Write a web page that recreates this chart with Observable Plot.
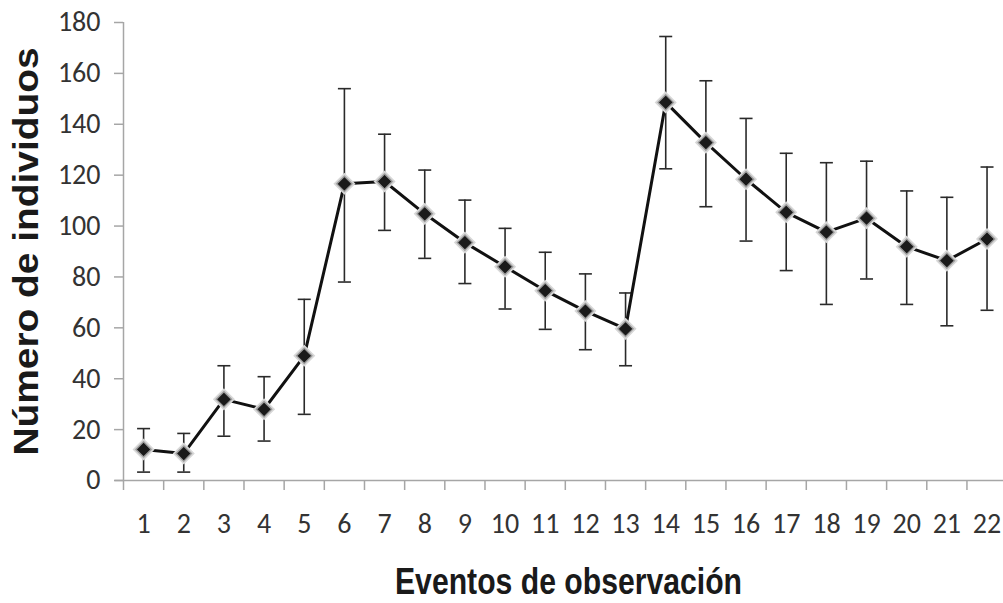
<!DOCTYPE html>
<html>
<head>
<meta charset="utf-8">
<script src="https://cdn.jsdelivr.net/npm/d3@7"></script>
<script src="https://cdn.jsdelivr.net/npm/@observablehq/plot@0.6"></script>
<style>
  html, body { margin: 0; padding: 0; background: #fff; }
</style>
</head>
<body>
<div id="chart"></div>
<script>
const events = [1,2,3,4,5,6,7,8,9,10,11,12,13,14,15,16,17,18,19,20,21,22];
const means  = [12.2,10.6,31.9,28.0,49.0,116.6,117.5,104.8,93.5,84.0,74.6,66.6,59.6,148.6,132.8,118.4,105.4,97.6,103.1,91.9,86.4,94.9];
const upper  = [20.4,18.5,45.1,40.8,71.2,154.0,136.1,122.0,110.2,99.1,89.7,81.2,73.7,174.5,157.1,142.3,128.6,124.9,125.5,113.8,111.3,123.2];
const lower  = [3.3,3.3,17.4,15.5,26.0,78.0,98.3,87.3,77.4,67.4,59.4,51.4,45.1,122.5,107.6,94.1,82.5,69.2,79.2,69.2,60.8,66.9];
const yTicks = [0,20,40,60,80,100,120,140,160,180];
const xTitle = "Eventos de observación";
const yTitle = "Número de individuos";

const data = events.map((e, i) => ({event: e, mean: means[i], hi: upper[i], lo: lower[i]}));
const boundaries = [0, ...events].map(e => e + 0.5);

const capSymbol = {
  draw(context, size) {
    const w = Math.sqrt(size / Math.PI);
    context.moveTo(-w, 0);
    context.lineTo(w, 0);
  }
};

const narrow = "Carlito, 'Liberation Sans Narrow', 'Arial Narrow', sans-serif";
const axisGrey = "#a6a6a6";

const chart = Plot.plot({
  width: 1003,
  height: 603,
  marginLeft: 123,
  marginRight: 0,
  marginTop: 22,
  marginBottom: 123,
  style: {background: "#fff", fontFamily: narrow},
  x: {type: "linear", domain: [0.5, 22.41]},
  y: {domain: [0, 180]},
  marks: [
    Plot.ruleX([0.5], {stroke: axisGrey, strokeWidth: 1.5}),
    Plot.ruleY([0], {stroke: axisGrey, strokeWidth: 1.5, x1: 0.29, x2: 22.41}),
    Plot.axisY({ticks: yTicks, tickSize: 9, tickPadding: 14, stroke: axisGrey, strokeWidth: 1.5, fill: "#333", fontSize: 28, label: null, tickFormat: d => String(d)}),
    Plot.axisX({ticks: boundaries, tickSize: 10, stroke: axisGrey, strokeWidth: 1.5, tickFormat: () => "", label: null}),
    Plot.axisX({ticks: events, tickSize: 0, tickPadding: 33, fill: "#333", fontSize: 28, label: null, tickFormat: d => String(d)}),
    Plot.ruleX(data, {x: "event", y1: "lo", y2: "hi", stroke: "#2a2a2a", strokeWidth: 1.6}),
    Plot.dot(data, {x: "event", y: "hi", symbol: capSymbol, r: 6.5, stroke: "#2a2a2a", strokeWidth: 1.6}),
    Plot.dot(data, {x: "event", y: "lo", symbol: capSymbol, r: 6.5, stroke: "#2a2a2a", strokeWidth: 1.6}),
    Plot.line(data, {x: "event", y: "mean", stroke: "#111", strokeWidth: 3}),
    Plot.dot(data, {x: "event", y: "mean", symbol: "diamond2", r: 9, fill: "#c4c4c4", stroke: "#d8d8d8", strokeWidth: 1.5}),
    Plot.dot(data, {x: "event", y: "mean", symbol: "diamond2", r: 6.8, fill: "#1a1a1a", stroke: "#9a9a9a", strokeWidth: 1.2}),
    Plot.text([yTitle], {text: d => d, frameAnchor: "left", textAnchor: "middle", dx: -97, rotate: -90, fontSize: 35, fontWeight: "bold", fontFamily: "'Liberation Sans', Arial, sans-serif", fill: "#1a1a1a"}),
    Plot.text([xTitle], {text: d => d, frameAnchor: "bottom", textAnchor: "middle", dx: 5, dy: 113, fontSize: 37, fontWeight: "bold", fontFamily: "'Liberation Sans', Arial, sans-serif", fill: "#1a1a1a"})
  ]
});
d3.select(chart).selectAll("text").each(function() {
  const t = this.textContent;
  if (t === xTitle) { this.setAttribute("textLength", 347); this.setAttribute("lengthAdjust", "spacingAndGlyphs"); }
  if (t === yTitle) { this.setAttribute("textLength", 408); this.setAttribute("lengthAdjust", "spacingAndGlyphs"); }
});
document.getElementById("chart").appendChild(chart);
</script>
</body>
</html>
